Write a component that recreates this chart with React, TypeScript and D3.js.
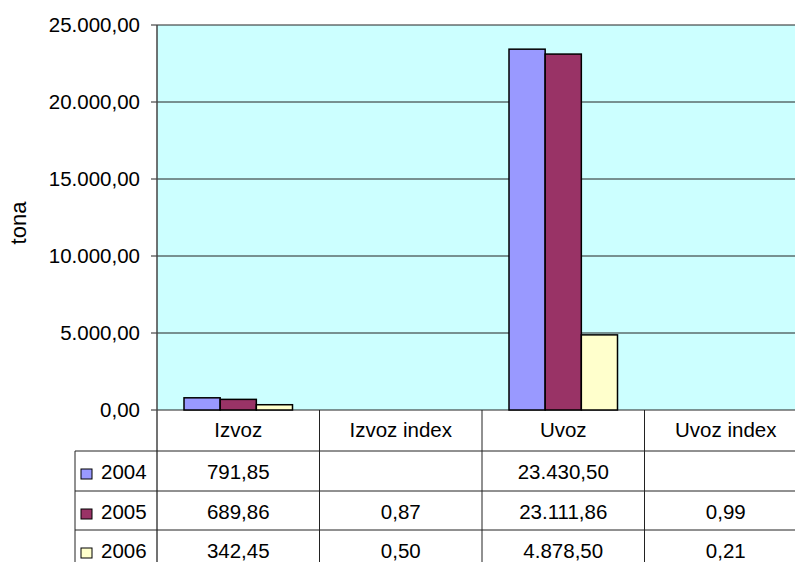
import React from "react";
import * as d3 from "d3";

const categories = ["Izvoz", "Izvoz index", "Uvoz", "Uvoz index"];
const years = ["2004", "2005", "2006"];
const values2004 = [791.85, null, 23430.5, null];
const values2005 = [689.86, 0.87, 23111.86, 0.99];
const values2006 = [342.45, 0.5, 4878.5, 0.21];
const yTicks = [0, 5000, 10000, 15000, 20000, 25000];
const colors = ["#9999FF", "#993366", "#FFFFCC"];

const series = [values2004, values2005, values2006];

const locale = d3.formatLocale({ decimal: ",", thousands: ".", grouping: [3], currency: ["", ""] });
const fmt = locale.format(",.2f");

const W = 795;
const H = 562;
const plotLeft = 157;
const plotRight = 807;
const plotTop = 25;
const plotBottom = 410;
const rowLines = [451, 491, 530];
const font = "'Liberation Sans', Arial, sans-serif";
const fs = 20.5;

export default function App() {
  const x = d3.scaleBand<string>().domain(categories).range([plotLeft, plotRight]).paddingInner(0).paddingOuter(0);
  const inner = d3.scaleBand<string>().domain(years).range([27, x.bandwidth() - 27]).padding(0);
  const y = d3.scaleLinear().domain([0, 25000]).range([plotBottom, plotTop]);

  return (
    <svg width={W} height={H} style={{ position: "absolute", left: 0, top: 0, background: "#fff" }} fontFamily={font}>
      <rect x={plotLeft} y={plotTop} width={plotRight - plotLeft} height={plotBottom - plotTop} fill="#CCFFFF" />
      {yTicks.map((t) => (
        <g key={t}>
          <line x1={plotLeft - 6} x2={plotRight} y1={y(t)} y2={y(t)} stroke="#222" strokeWidth={1} />
          <text x={140} y={y(t)} dy="0.36em" textAnchor="end" fontSize={fs} fill="#000">
            {fmt(t)}
          </text>
        </g>
      ))}
      {series.map((vals, si) =>
        categories.map((c, ci) => {
          const v = vals[ci];
          if (v == null) return null;
          const h = plotBottom - y(v);
          if (h < 1) return null;
          return (
            <rect
              key={si + "-" + ci}
              x={(x(c) as number) + (inner(years[si]) as number)}
              y={y(v)}
              width={inner.bandwidth()}
              height={h}
              fill={colors[si]}
              stroke="#000"
              strokeWidth={1.5}
            />
          );
        })
      )}
      <text transform={`translate(26,223) rotate(-90)`} textAnchor="middle" fontSize={22} fill="#000">
        tona
      </text>
      {/* table */}
      <line x1={plotLeft} x2={plotLeft} y1={plotTop} y2={H} stroke="#444" strokeWidth={1.5} />
      {categories.slice(1).map((c) => (
        <line key={c} x1={x(c) as number} x2={x(c) as number} y1={plotBottom} y2={H} stroke="#222" strokeWidth={1} />
      ))}
      {rowLines.map((ly) => (
        <line key={ly} x1={75} x2={W} y1={ly} y2={ly} stroke="#222" strokeWidth={1} />
      ))}
      <line x1={75} x2={75} y1={rowLines[0]} y2={H} stroke="#222" strokeWidth={1} />
      {categories.map((c) => (
        <text key={c} x={(x(c) as number) + x.bandwidth() / 2} y={437} textAnchor="middle" fontSize={fs} fill="#000">
          {c}
        </text>
      ))}
      {series.map((vals, si) => {
        const by = rowLines[si] + 28;
        return (
          <g key={si}>
            <rect x={81} y={by - 10} width={11} height={10} fill={colors[si]} stroke="#000" strokeWidth={1} />
            <text x={101} y={by} fontSize={fs} fill="#000">
              {years[si]}
            </text>
            {vals.map((v, ci) =>
              v == null ? null : (
                <text
                  key={ci}
                  x={(x(categories[ci]) as number) + x.bandwidth() / 2}
                  y={by}
                  textAnchor="middle"
                  fontSize={fs}
                  fill="#000"
                >
                  {fmt(v)}
                </text>
              )
            )}
          </g>
        );
      })}
    </svg>
  );
}
